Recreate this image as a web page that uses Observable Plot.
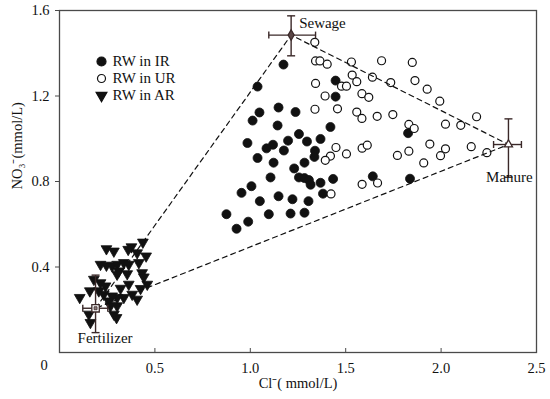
<!DOCTYPE html>
<html><head><meta charset="utf-8">
<script src="https://cdn.jsdelivr.net/npm/d3@7"></script>
<script src="https://cdn.jsdelivr.net/npm/@observablehq/plot@0.6"></script>
<style>body{margin:0;background:#fff}#chart{width:550px;height:399px}</style>
</head><body><div id="chart"></div>
<script>
// Cl- (mmol/L), NO3- (mmol/L)
const rwIR = [[1.174,1.347],[1.038,1.244],[1.447,1.272],[1.447,1.197],[1.148,1.146],[1.048,1.123],[1.012,1.085],[1.237,1.125],[1.143,1.062],[1.420,1.055],[0.985,0.980],[1.255,1.022],[1.297,0.987],[1.368,0.999],[1.198,0.991],[1.119,0.972],[1.085,0.955],[1.176,0.945],[1.339,0.944],[1.336,0.915],[1.038,0.910],[1.122,0.888],[1.284,0.888],[1.230,0.861],[1.106,0.819],[1.255,0.819],[1.284,0.816],[1.307,0.807],[1.316,0.785],[1.368,0.794],[1.434,0.812],[1.642,0.824],[1.006,0.778],[0.954,0.747],[1.050,0.708],[1.148,0.731],[1.221,0.717],[1.305,0.708],[1.381,0.743],[0.875,0.647],[1.097,0.647],[1.211,0.650],[1.284,0.654],[0.989,0.612],[0.928,0.579],[1.827,1.026],[1.837,0.813]];
const rwUR = [[1.338,1.451],[1.342,1.364],[1.365,1.364],[1.403,1.349],[1.530,1.359],[1.688,1.365],[1.849,1.357],[1.342,1.259],[1.478,1.246],[1.504,1.246],[1.534,1.298],[1.558,1.267],[1.640,1.288],[1.736,1.263],[1.863,1.272],[1.927,1.232],[1.993,1.176],[1.392,1.200],[1.585,1.211],[1.621,1.194],[1.339,1.138],[1.457,1.140],[1.558,1.125],[1.585,1.095],[1.665,1.105],[1.747,1.113],[1.831,1.067],[1.859,1.048],[2.023,1.068],[2.103,1.063],[2.186,1.103],[1.449,0.959],[1.420,0.919],[1.393,0.899],[1.504,0.929],[1.586,0.956],[1.613,0.970],[1.771,0.922],[1.831,0.942],[1.941,0.975],[2.023,0.953],[1.997,0.921],[2.158,0.963],[2.240,0.935],[1.909,0.887],[1.423,0.742],[1.586,0.787],[1.667,0.793]];
const rwAR = [[0.246,0.485],[0.285,0.474],[0.360,0.482],[0.377,0.494],[0.437,0.516],[0.407,0.466],[0.454,0.451],[0.215,0.412],[0.246,0.408],[0.276,0.404],[0.302,0.412],[0.337,0.420],[0.363,0.412],[0.416,0.420],[0.311,0.381],[0.302,0.366],[0.355,0.368],[0.433,0.373],[0.442,0.353],[0.180,0.342],[0.215,0.326],[0.241,0.311],[0.320,0.300],[0.363,0.319],[0.460,0.319],[0.425,0.299],[0.407,0.249],[0.159,0.288],[0.106,0.257],[0.206,0.288],[0.232,0.272],[0.258,0.241],[0.302,0.257],[0.381,0.272],[0.162,0.140],[0.299,0.163],[0.154,0.179],[0.267,0.218],[0.302,0.218],[0.285,0.179],[0.337,0.257],[0.276,0.264]];

const emNames = ["Sewage","Manure","Fertilizer"];
const emX   = [1.214, 2.353, 0.189];
const emY   = [1.485, 0.973, 0.207];
const emXLo = [1.097, 2.275, 0.122];
const emXHi = [1.342, 2.421, 0.253];
const emYLo = [1.388, 0.820, 0.093];
const emYHi = [1.575, 1.093, 0.362];

const legendLabels = ["RW in IR","RW in UR","RW in AR"];
const xTicks = [0.5, 1, 1.5, 2, 2.5];
const yTicks = [0.4, 0.8, 1.2, 1.6];
const originLabel = ["0"];
const xLabel = ["Cl\u207B( mmol/L)"];
const yLabel = ["NO\u2083\u207B(mmol/L)"];

const ink = "#111111";
const emInk = "#3a2828";
const font = "Liberation Serif, Times New Roman, serif";

const hCap = {draw(c, s){const r=Math.sqrt(s/Math.PI); c.moveTo(-r,0); c.lineTo(r,0);}};
const vCap = {draw(c, s){const r=Math.sqrt(s/Math.PI); c.moveTo(0,-r); c.lineTo(0,r);}};

const idx = emNames.map((d,i)=>i);
const mixPath = [2,0,1,2].map(i => ({x: emX[i], y: emY[i]}));

const legendMarks = [];
const legendSym = [
  {symbol:"circle", fill: ink, stroke: ink, r:4.5, rotate:0},
  {symbol:"circle", fill: "white", stroke: ink, r:4, rotate:0},
  {symbol:"triangle", fill: ink, stroke: ink, r:4, rotate:180}
];
legendLabels.forEach((lab, i) => {
  const s = legendSym[i];
  legendMarks.push(Plot.dot([lab], {frameAnchor:"top-left", dx:42, dy:51+17*i, symbol:s.symbol, r:s.r, fill:s.fill, stroke:s.stroke, strokeWidth:1.2, rotate:s.rotate}));
  legendMarks.push(Plot.text([lab], {frameAnchor:"top-left", dx:53, dy:51+17*i, text:d=>d, textAnchor:"start", lineAnchor:"middle", fontSize:15, fill:ink, fontFamily:font}));
});

const chart = Plot.plot({
  width: 550, height: 399,
  marginLeft: 59, marginRight: 14, marginTop: 10, marginBottom: 47,
  style: {fontFamily: font, fontSize: "14.5px", color: ink, background: "white"},
  x: {domain: [0, 2.5]},
  y: {domain: [0, 1.6]},
  marks: [
    Plot.frame({stroke: "#4a4a4a", strokeWidth: 1.3}),
    Plot.axisX(xTicks, {tickSize: 4, dy: -4, tickFormat: () => "", label: null, stroke: "#4a4a4a"}),
    Plot.axisX(xTicks, {tickSize: 0, tickPadding: 10, label: null, fontSize: 14.5, fill: ink}),
    Plot.axisY(yTicks, {tickSize: 4, tickPadding: 6, label: null, fontSize: 14.5, fill: ink, stroke: "#4a4a4a"}),
    Plot.text(originLabel, {frameAnchor: "bottom-left", dx: -19, dy: 13, text: d=>d, fontSize: 14.5, fill: ink, lineAnchor: "middle"}),
    Plot.text(xLabel, {frameAnchor: "bottom", dy: 31, text: d=>d, fontSize: 14.5, fill: ink, lineAnchor: "middle"}),
    Plot.text(yLabel, {frameAnchor: "left", dx: -42, dy: 8, rotate: -90, text: d=>d, fontSize: 14.5, fill: ink, lineAnchor: "middle"}),
    // samples
    Plot.dot(rwIR, {x: d=>d[0], y: d=>d[1], r: 4.5, fill: ink, stroke: ink, strokeWidth: 0.8}),
    Plot.dot(rwUR, {x: d=>d[0], y: d=>d[1], r: 4, fill: "white", stroke: ink, strokeWidth: 1.2}),
    // mixing triangle
    Plot.line(mixPath, {x: "x", y: "y", stroke: ink, strokeWidth: 1.2, strokeDasharray: "5,4"}),
    Plot.dot(rwAR, {x: d=>d[0], y: d=>d[1], symbol: "triangle", rotate: 180, r: 4, fill: ink, stroke: ink, strokeWidth: 0.8}),
    // end-member error bars
    Plot.link(idx, {x1: i=>emXLo[i], x2: i=>emXHi[i], y1: i=>emY[i], y2: i=>emY[i], stroke: emInk, strokeWidth: 1.4}),
    Plot.link(idx, {x1: i=>emX[i], x2: i=>emX[i], y1: i=>emYLo[i], y2: i=>emYHi[i], stroke: emInk, strokeWidth: 1.4}),
    Plot.dot(idx, {x: i=>emXLo[i], y: i=>emY[i], symbol: vCap, r: 3.5, fill: "none", stroke: emInk, strokeWidth: 1.4}),
    Plot.dot(idx, {x: i=>emXHi[i], y: i=>emY[i], symbol: vCap, r: 3.5, fill: "none", stroke: emInk, strokeWidth: 1.4}),
    Plot.dot(idx, {x: i=>emX[i], y: i=>emYLo[i], symbol: hCap, r: 4, fill: "none", stroke: emInk, strokeWidth: 1.4}),
    Plot.dot(idx, {x: i=>emX[i], y: i=>emYHi[i], symbol: hCap, r: 4, fill: "none", stroke: emInk, strokeWidth: 1.4}),
    // end-member markers
    Plot.dot([0], {x: i=>emX[i], y: i=>emY[i], symbol: "diamond", r: 3.2, fill: "#5a4646", stroke: emInk, strokeWidth: 1.2}),
    Plot.dot([1], {x: i=>emX[i], y: i=>emY[i], symbol: "triangle", r: 3, fill: "white", stroke: emInk, strokeWidth: 1.3}),
    Plot.dot([2], {x: i=>emX[i], y: i=>emY[i], symbol: "square", r: 4.2, fill: "white", stroke: emInk, strokeWidth: 1.3}),
    Plot.dot([2], {x: i=>emX[i], y: i=>emY[i], symbol: "square", r: 1.7, fill: "#8a7a7a", stroke: emInk, strokeWidth: 0.8}),
    // end-member labels
    Plot.text([0], {x: i=>emX[i], y: i=>emY[i], text: i=>emNames[i], dx: 8, dy: -12, textAnchor: "start", lineAnchor: "middle", fontSize: 15, fill: ink}),
    Plot.text([1], {x: i=>emX[i], y: i=>emY[i], text: i=>emNames[i], dx: 1, dy: 32.5, textAnchor: "middle", lineAnchor: "middle", fontSize: 15, fill: ink}),
    Plot.text([2], {x: i=>emX[i], y: i=>emY[i], text: i=>emNames[i], dx: 9.5, dy: 29.5, textAnchor: "middle", lineAnchor: "middle", fontSize: 15, fill: ink}),
    ...legendMarks
  ]
});
document.getElementById("chart").appendChild(chart);
</script>
</body></html>
